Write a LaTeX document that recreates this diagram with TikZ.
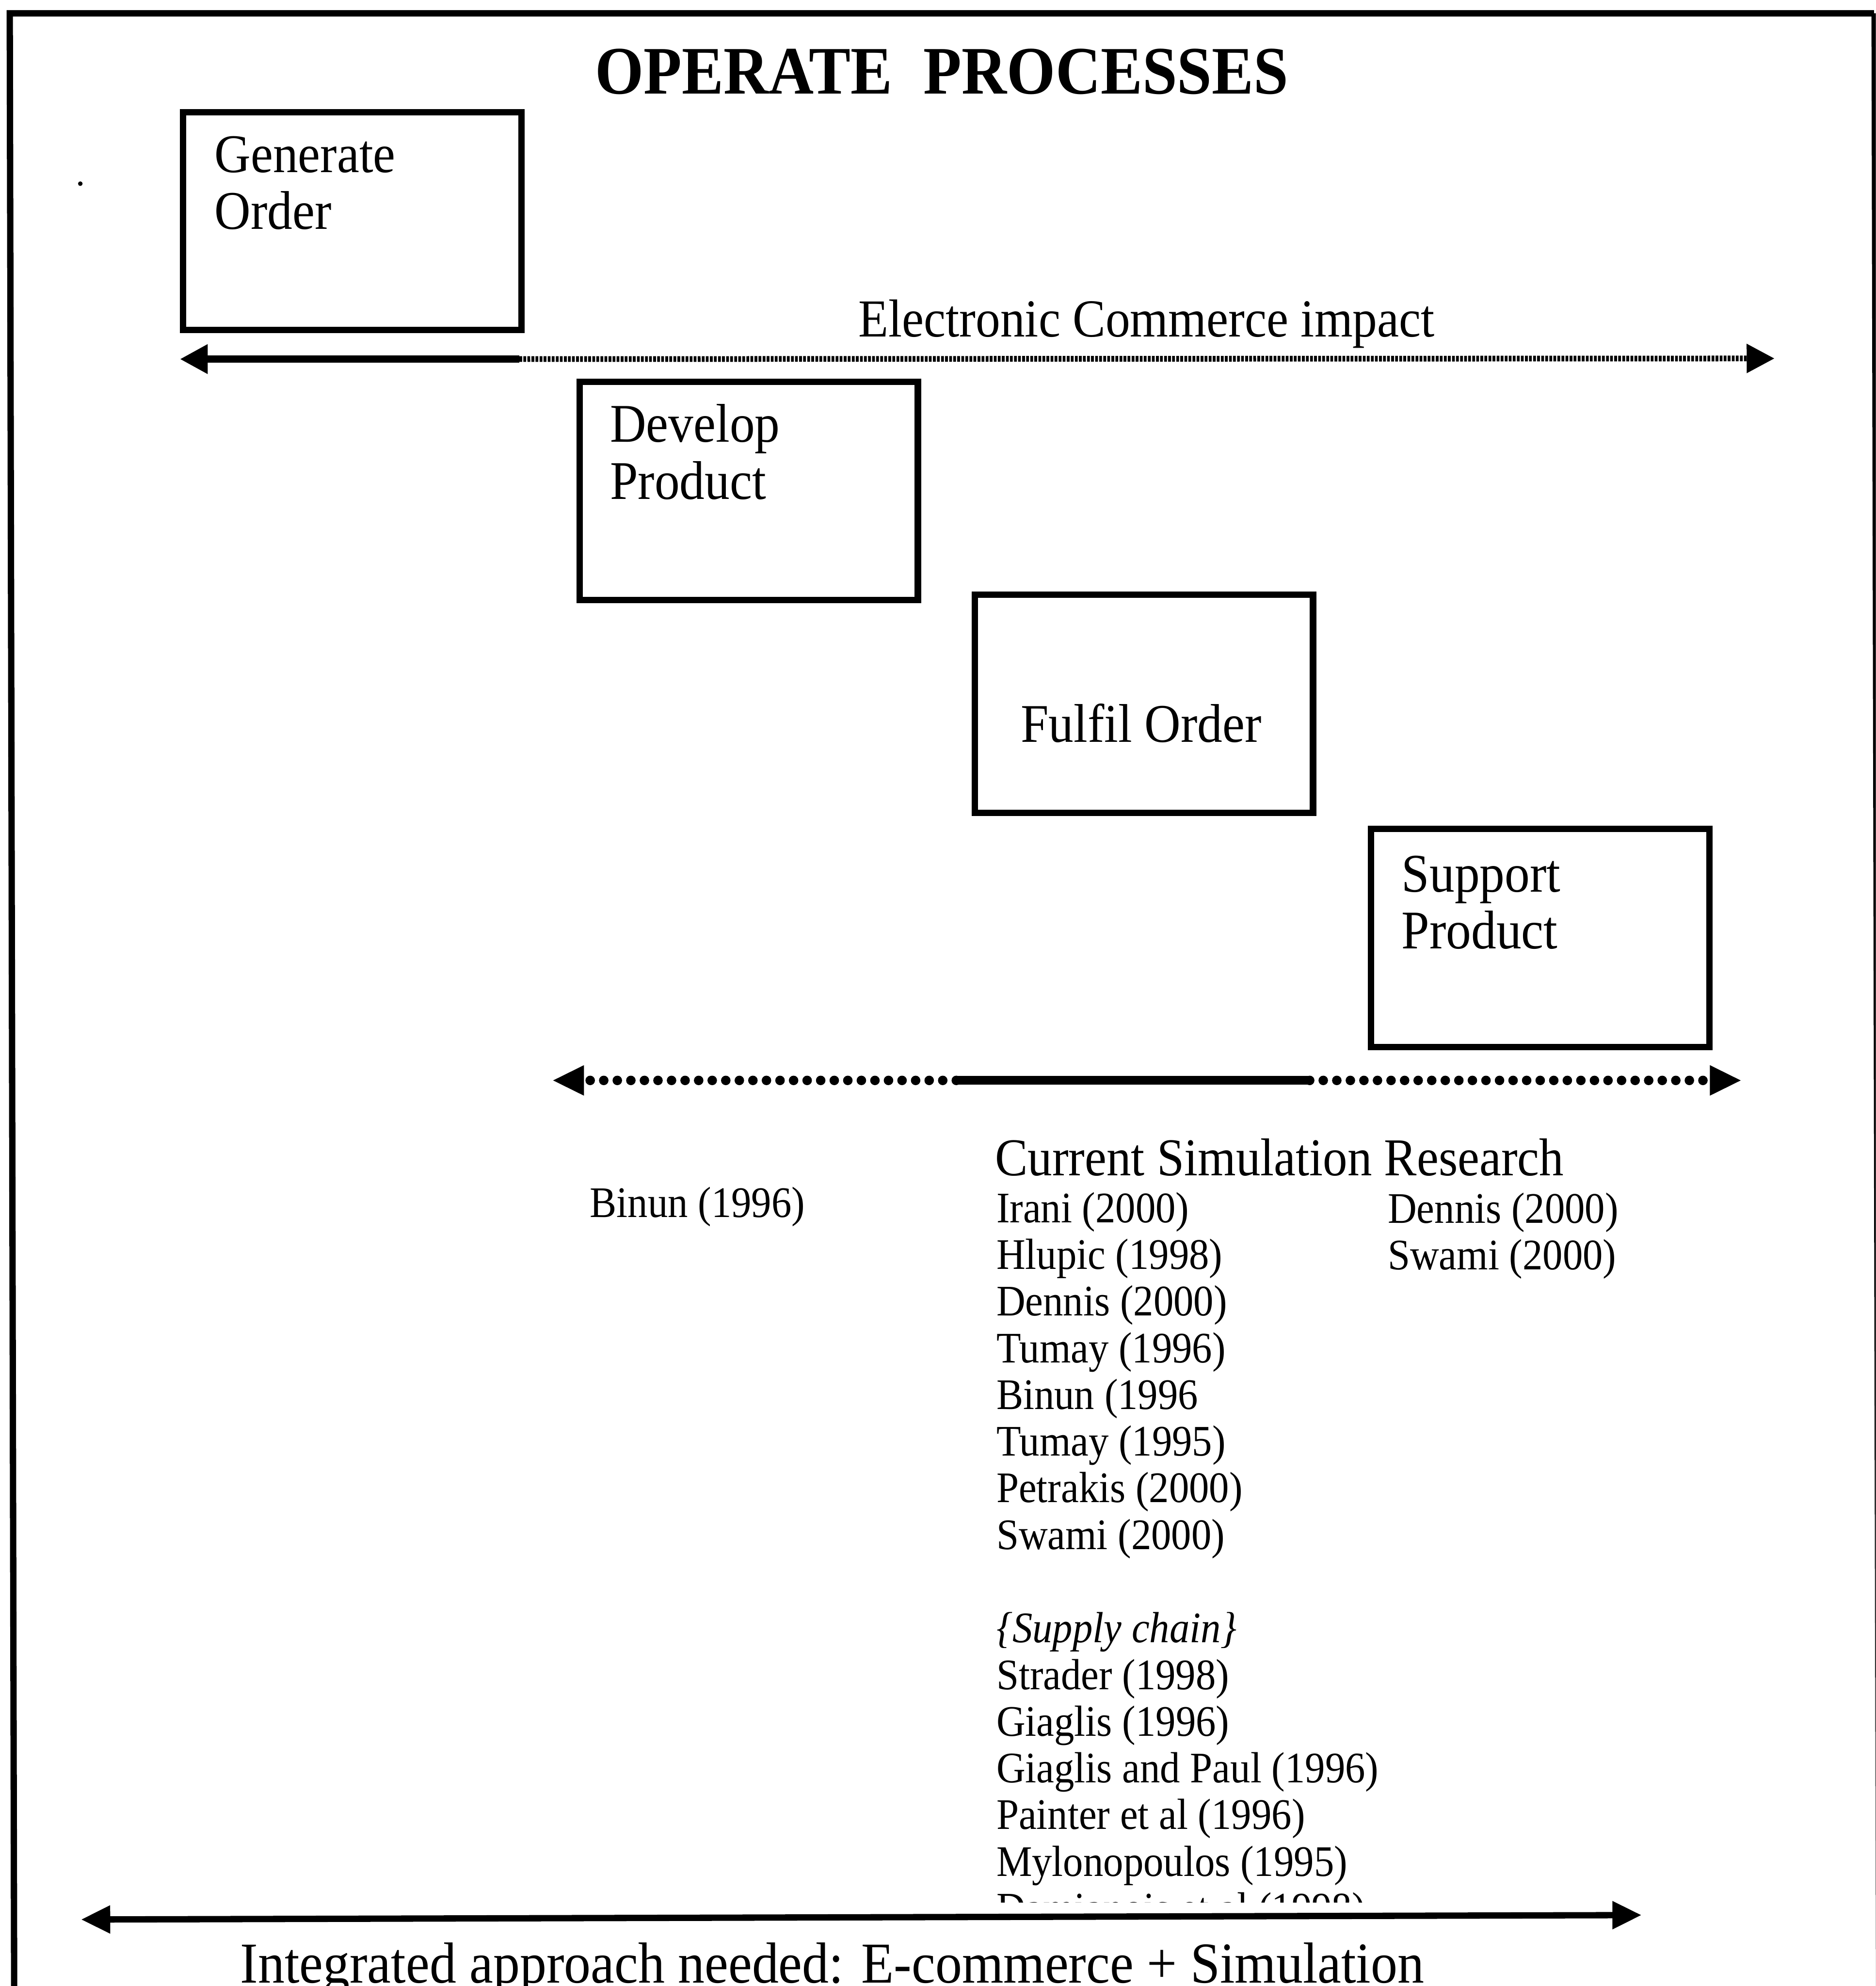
\documentclass[tikz,border=0pt]{standalone}
\usepackage{fontspec}
\setmainfont{Liberation Serif}[FakeStretch=0.92]
\usetikzlibrary{arrows.meta}

\begin{document}
\begin{tikzpicture}[x=0.01cm, y=-0.01cm, line join=miter,
  procbox/.style={draw, line width=0.05cm, anchor=north west, inner sep=0pt,
                  minimum width=2.67cm, minimum height=1.72cm},
  % multi-line nodes are anchored at the baseline of their last line
  boxtext/.style={anchor=base west, inner sep=0pt, align=left,
                  font=\fontsize{12.23pt}{12.8pt}\selectfont},
  reflist/.style={anchor=base west, inner sep=0pt, align=left,
                  font=\fontsize{9.79pt}{10.48pt}\selectfont},
  finedots/.style={line width=0.045cm, dash pattern=on 0.022cm off 0.01cm},
  bigdots/.style={line width=0.075cm, line cap=round, dash pattern=on 0pt off 0.107cm},
  thickline/.style={line width=0.055cm},
  tipA/.style={-{Triangle[length=0.22cm,width=0.22cm]}},
  tipB/.style={-{Triangle[length=0.25cm,width=0.22cm]}}]

\useasboundingbox (0,0) rectangle (1481,1568);
\clip (0,0) rectangle (1481,1568);

% outer frame (open at the bottom)
\draw[line width=0.05cm] (11.2,1580) -- (7.7,10.5) -- (1479.5,10.5);
\draw[line width=0.04cm] (1479.5,10.5) -- (1483,1580);
\fill (63.4,145) circle (1.8);

% title
\node[anchor=base, inner sep=0pt, font=\fontsize{15.25pt}{16pt}\selectfont\bfseries]
  (title) at (743.5,74) {OPERATE~~PROCESSES};

% process boxes
\node[procbox] (gen) at (142,86) {};
\node[procbox] (dev) at (455,299) {};
\node[procbox] (ful) at (767,467) {};
\node[procbox] (sup) at (1080,652) {};

\node[boxtext] (gentext) at (168.8,181) {Generate\\Order};
\node[boxtext] (devtext) at (481,394) {Develop\\Product};
\node[boxtext, anchor=base] (fultext) at (901,586) {Fulfil Order};
\node[boxtext] (suptext) at (1106,749) {Support\\Product};

% electronic commerce arrow
\coordinate (ecL) at (142,283.5);
\coordinate (ecM) at (410,283.5);
\coordinate (ecR) at (1401,283);
\draw[thickline, {Triangle[length=0.22cm,width=0.22cm]}-] (ecL) -- (ecM);
\draw[finedots, tipA] (ecM) -- (ecR);
\node[boxtext, font=\fontsize{12.0pt}{12.8pt}\selectfont] (ectext) at (677,265.8) {Electronic Commerce impact};

% simulation research arrow
\coordinate (simL) at (436,853);
\coordinate (simA) at (755,853);
\coordinate (simB) at (1034,853);
\coordinate (simR) at (1375,853);
\draw[bigdots, tipB] (simA) -- (simL);
\draw[line width=0.07cm] (simA) -- (simB);
\draw[bigdots, tipB] (simB) -- (simR);

\node[anchor=base west, inner sep=0pt, font=\fontsize{11.95pt}{13pt}\selectfont]
  (csr) at (785,928) {Current Simulation Research};
\node[reflist] (binun) at (465,961) {Binun (1996)};
\begin{scope}
  \clip (700,900) rectangle (1300,1502);
  \node[reflist] (refs) at (786,1518) {Irani (2000)\\Hlupic (1998)\\Dennis (2000)\\Tumay (1996)\\Binun (1996\\Tumay (1995)\\Petrakis (2000)\\Swami (2000)\\[10.48pt]\textit{\{Supply chain\}}\\Strader (1998)\\Giaglis (1996)\\Giaglis and Paul (1996)\\Painter et al (1996)\\Mylonopoulos (1995)\\Damianois et al (1998)};
\end{scope}
\node[reflist] (refs2) at (1095,1002.4) {Dennis (2000)\\Swami (2000)};

% integration arrow
\coordinate (intL) at (64,1515.5);
\coordinate (intR) at (1296,1512);
\draw[line width=0.05cm, {Triangle[length=0.23cm,width=0.21cm]}-{Triangle[length=0.23cm,width=0.21cm]}] (intL) -- (intR);
\node[anchor=base west, inner sep=0pt, font=\fontsize{13.0pt}{14pt}\selectfont]
  (inttext) at (189,1565.4) {Integrated approach needed: E-commerce + Simulation};

\end{tikzpicture}
\end{document}
